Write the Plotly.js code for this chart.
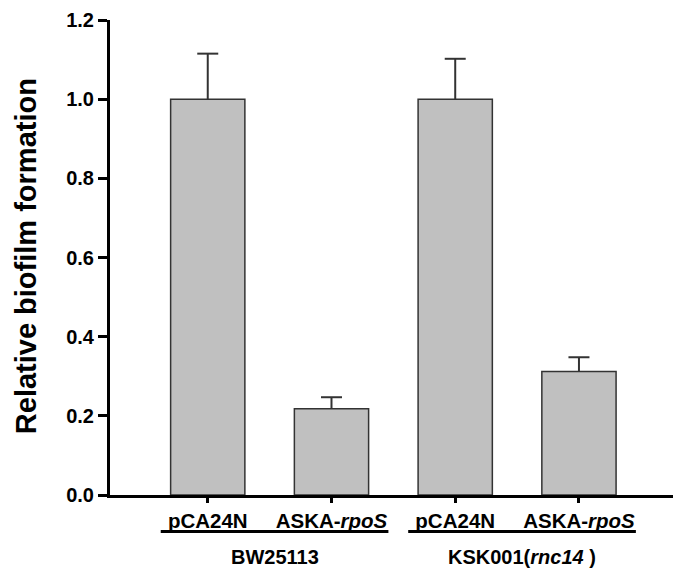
<!DOCTYPE html>
<html>
<head>
<meta charset="utf-8">
<script src="https://cdn.plot.ly/plotly-3.0.1.min.js"></script>
<style>html,body{margin:0;padding:0;background:#fff;}#chart{width:673px;height:571px;}</style>
</head>
<body>
<div id="chart"></div>
<script>
// Data
var categories = ["pCA24N", "ASKA-<i>rpoS</i>", "pCA24N", "ASKA-<i>rpoS</i>"];
var values = [1.0, 0.218, 1.0, 0.312];
var errors = [0.115, 0.029, 0.102, 0.036];
var groups = ["BW25113", "KSK001(<i>rnc14 </i>)"];
var groupStart = [0, 2];
var groupEnd = [1, 3];
var yTicks = [0, 0.2, 0.4, 0.6, 0.8, 1.0, 1.2];
var yTitle = "Relative biofilm formation";

var xpos = categories.map(function(_, i){ return i; });
var font = "Liberation Sans, Arial, sans-serif";

var bars = {
  type: "bar",
  x: xpos,
  y: values,
  width: 0.6,
  marker: {color: "#c0c0c0", line: {color: "#333333", width: 1.5}},
  hoverinfo: "none"
};

// upper error whisker: stem drawn by error bar down to the bar top, cap as a marker
var tops = values.map(function(v, i){ return v + errors[i]; });
var whiskers = {
  type: "scatter",
  mode: "markers",
  x: xpos,
  y: tops,
  marker: {symbol: "line-ew", size: 15, line: {color: "#333333", width: 2}},
  error_y: {type: "data", symmetric: false, array: errors.map(function(){return 0;}),
            arrayminus: errors, color: "#333333", thickness: 2, width: 0},
  hoverinfo: "none"
};

var shapes = [];
var annotations = [];
groups.forEach(function(g, i){
  var c = (groupStart[i] + groupEnd[i]) / 2 + 0.04;
  shapes.push({type: "line", xref: "x", yref: "paper", x0: c - 0.92, x1: c + 0.92,
               y0: -0.077, y1: -0.077, line: {color: "#000", width: 3}});
  annotations.push({text: "<b>" + g + "</b>", xref: "x", yref: "paper", x: c, y: -0.131,
                    xanchor: "center", yanchor: "middle", showarrow: false,
                    font: {family: font, size: 20, color: "#000"}});
});
annotations.push({text: "<b>" + yTitle + "</b>", xref: "paper", yref: "paper",
                  x: -0.149, y: 0.503, xanchor: "center", yanchor: "middle",
                  textangle: -90, showarrow: false,
                  font: {family: font, size: 29, color: "#000"}});

var layout = {
  width: 673, height: 571,
  margin: {l: 110, r: 0, t: 20, b: 75.5},
  paper_bgcolor: "#fff", plot_bgcolor: "#fff",
  showlegend: false,
  bargap: 0,
  xaxis: {
    range: [-0.79, 3.76],
    tickvals: xpos,
    ticktext: categories.map(function(c){ return "<b>" + c + "</b>"; }),
    ticks: "outside", ticklen: 5, tickwidth: 3, tickcolor: "#000",
    showline: true, linewidth: 3, linecolor: "#000",
    showgrid: false, zeroline: false,
    tickfont: {family: font, size: 20.5, color: "#000"}
  },
  yaxis: {
    range: [0, 1.2],
    tickvals: yTicks,
    tickformat: ".1f",
    ticks: "outside", ticklen: 9, tickwidth: 3, tickcolor: "#000",
    showline: true, linewidth: 3, linecolor: "#000",
    showgrid: false, zeroline: false,
    tickfont: {family: font, size: 20, color: "#000", weight: "bold"}
  },
  shapes: shapes,
  annotations: annotations
};

Plotly.newPlot("chart", [bars, whiskers], layout, {staticPlot: true, displayModeBar: false});
</script>
</body>
</html>
